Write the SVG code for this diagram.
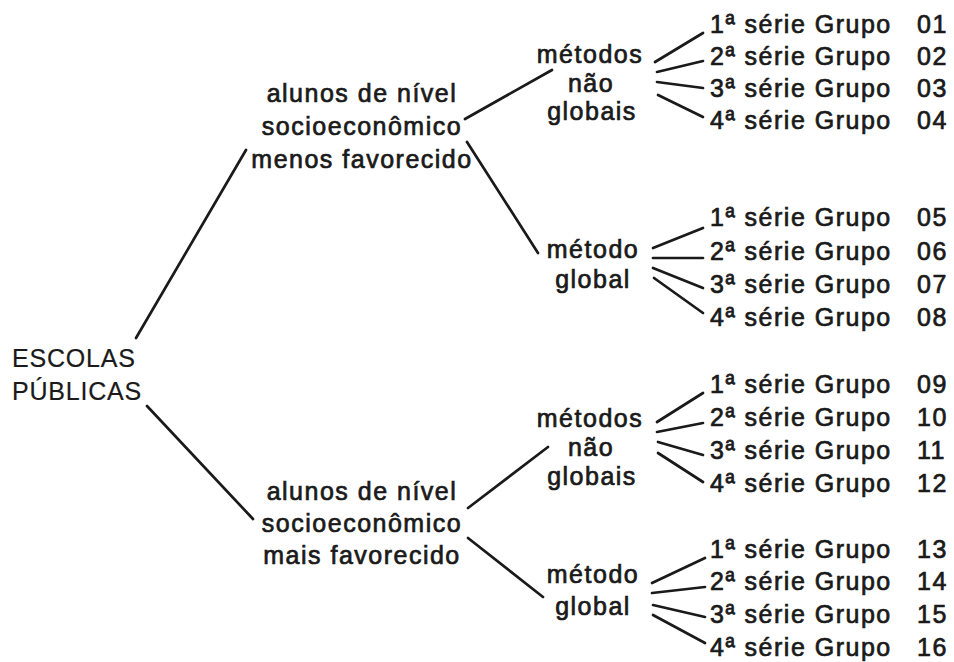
<svg xmlns="http://www.w3.org/2000/svg" width="954" height="662" viewBox="0 0 954 662">
<style>
text{font-family:"Liberation Sans",Arial,sans-serif;font-size:25px;fill:#1a1a1a;stroke:#1a1a1a;stroke-width:0.7px;letter-spacing:1.5px}
.c{text-anchor:middle}
.e{letter-spacing:0.8px;stroke-width:0.2px}
#connectors line{stroke:#1a1a1a;stroke-width:2.7;stroke-linecap:round}
</style>
<rect width="954" height="662" fill="#fff"/>
<g id="connectors">
<line x1="136" y1="338" x2="246" y2="150"/>
<line x1="147" y1="406" x2="253" y2="519"/>
<line x1="465" y1="119" x2="552" y2="70"/>
<line x1="467" y1="142" x2="538" y2="253"/>
<line x1="468" y1="508" x2="548" y2="447"/>
<line x1="468" y1="538" x2="543" y2="597"/>
<line x1="655" y1="62" x2="703" y2="33"/>
<line x1="657" y1="72" x2="703" y2="61"/>
<line x1="657" y1="82" x2="703" y2="88"/>
<line x1="658" y1="95" x2="703" y2="117"/>
<line x1="653" y1="248" x2="703" y2="228"/>
<line x1="653" y1="258" x2="703" y2="258"/>
<line x1="653" y1="268" x2="703" y2="288"/>
<line x1="654" y1="278" x2="703" y2="313"/>
<line x1="657" y1="422" x2="703" y2="393"/>
<line x1="657" y1="432" x2="703" y2="423"/>
<line x1="658" y1="442" x2="703" y2="455"/>
<line x1="658" y1="453" x2="703" y2="482"/>
<line x1="652" y1="583" x2="705" y2="558"/>
<line x1="652" y1="593" x2="705" y2="587"/>
<line x1="653" y1="605" x2="705" y2="617"/>
<line x1="653" y1="615" x2="705" y2="643"/>
</g>
<g id="root"><text class="e" x="12" y="367">ESCOLAS</text><text class="e" x="12" y="400">PÚBLICAS</text></g>
<g id="n-menos"><text class="c" x="362" y="102">alunos de nível</text><text class="c" x="362" y="135">socioeconômico</text><text class="c" x="362" y="168">menos favorecido</text></g>
<g id="n-mais"><text class="c" x="362" y="500">alunos de nível</text><text class="c" x="362" y="532">socioeconômico</text><text class="c" x="362" y="564">mais favorecido</text></g>
<g id="m1"><text class="c" x="590" y="63">métodos</text><text class="c" x="591" y="92">não</text><text class="c" x="592" y="120">globais</text></g>
<g id="m2"><text class="c" x="593" y="258">método</text><text class="c" x="593" y="288">global</text></g>
<g id="m3"><text class="c" x="590" y="427">métodos</text><text class="c" x="591" y="456">não</text><text class="c" x="592" y="485">globais</text></g>
<g id="m4"><text class="c" x="593" y="583">método</text><text class="c" x="593" y="615">global</text></g>
<g id="g01"><text x="710" y="33">1ª série Grupo</text><text x="917" y="33">01</text></g>
<g id="g02"><text x="710" y="65">2ª série Grupo</text><text x="917" y="65">02</text></g>
<g id="g03"><text x="710" y="97">3ª série Grupo</text><text x="917" y="97">03</text></g>
<g id="g04"><text x="710" y="129">4ª série Grupo</text><text x="917" y="129">04</text></g>
<g id="g05"><text x="710" y="226">1ª série Grupo</text><text x="917" y="226">05</text></g>
<g id="g06"><text x="710" y="260">2ª série Grupo</text><text x="917" y="260">06</text></g>
<g id="g07"><text x="710" y="293">3ª série Grupo</text><text x="917" y="293">07</text></g>
<g id="g08"><text x="710" y="326">4ª série Grupo</text><text x="917" y="326">08</text></g>
<g id="g09"><text x="710" y="393">1ª série Grupo</text><text x="917" y="393">09</text></g>
<g id="g10"><text x="710" y="426">2ª série Grupo</text><text x="917" y="426">10</text></g>
<g id="g11"><text x="710" y="459">3ª série Grupo</text><text x="917" y="459">11</text></g>
<g id="g12"><text x="710" y="492">4ª série Grupo</text><text x="917" y="492">12</text></g>
<g id="g13"><text x="710" y="558">1ª série Grupo</text><text x="917" y="558">13</text></g>
<g id="g14"><text x="710" y="590">2ª série Grupo</text><text x="917" y="590">14</text></g>
<g id="g15"><text x="710" y="623">3ª série Grupo</text><text x="917" y="623">15</text></g>
<g id="g16"><text x="710" y="656">4ª série Grupo</text><text x="917" y="656">16</text></g>
</svg>
